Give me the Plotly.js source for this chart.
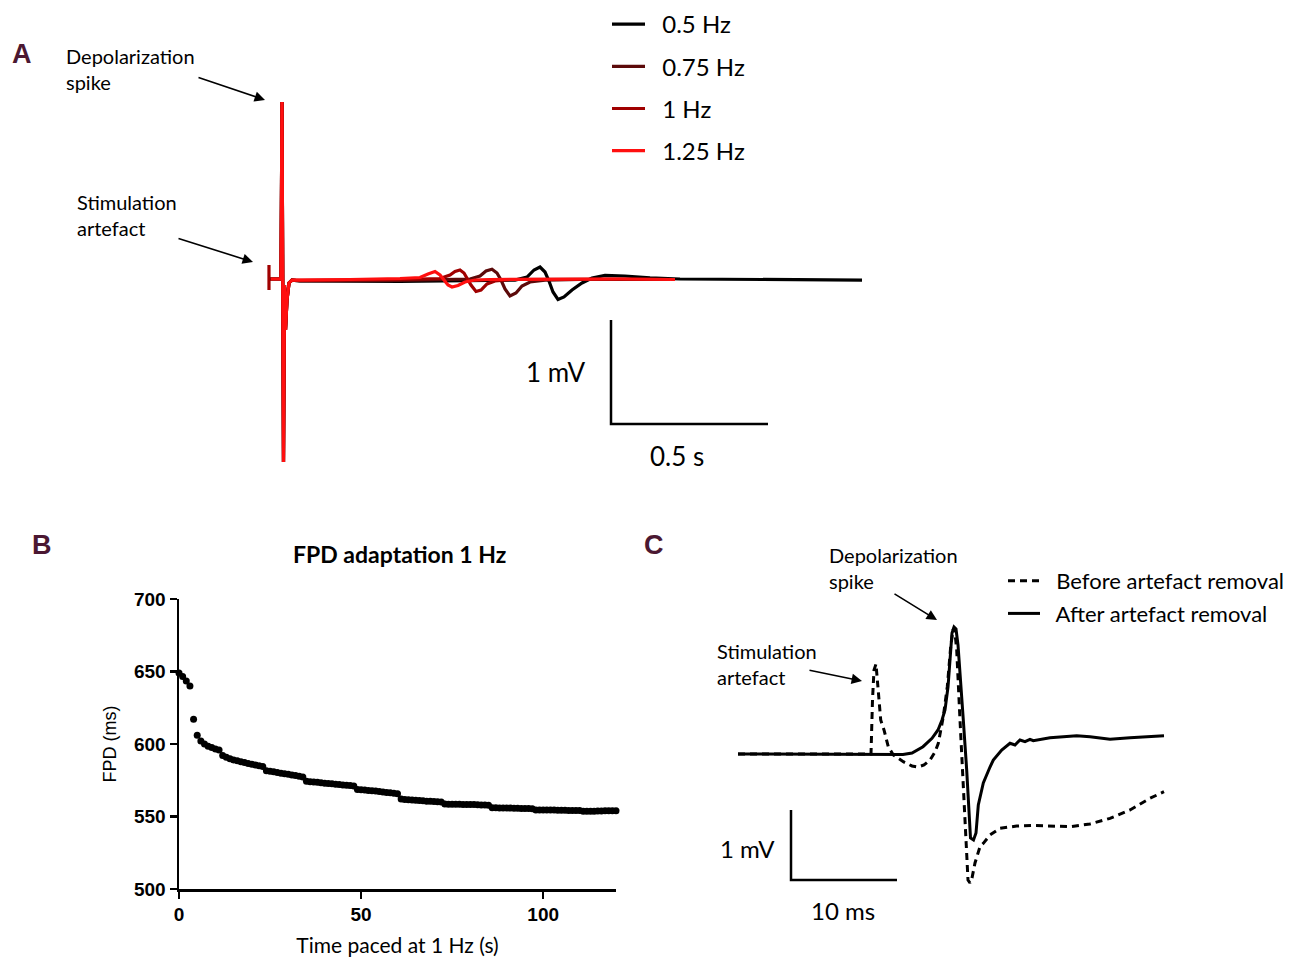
<!DOCTYPE html>
<html><head><meta charset="utf-8">
<script src="https://cdn.plot.ly/plotly-3.0.1.min.js"></script>
<style>html,body{margin:0;padding:0;background:#fff;overflow:hidden;width:1291px;height:959px}#chart{width:1291px;height:959px;overflow:hidden}</style>
</head><body><div id="chart"></div>
<script>
// ---------- Panel A: field potential traces (time in s, voltage in mV) ----------
const freqLabels = ['0.5 Hz', '0.75 Hz', '1 Hz', '1.25 Hz'];
const tA_05 = [-0.0064, 0.0350, 0.0382, 0.0430, 0.0462, 0.0494, 0.0541, 0.0605, 0.0701, 0.0955, 0.4140, 0.6688, 0.7803, 0.8185, 0.8408, 0.8599, 0.8758, 0.8885, 0.9013, 0.9172, 0.9363, 0.9618, 0.9936, 1.0255, 1.0669, 1.1306, 1.2102, 1.3057, 1.5605, 1.8854];
const vA_05 = [0, 0, 1.702, -1.760, -0.058, -0.490, -0.202, -0.038, -0.010, -0.019, -0.024, -0.019, -0.010, 0.019, 0.087, 0.115, 0.067, -0.019, -0.125, -0.197, -0.173, -0.106, -0.038, 0.010, 0.034, 0.029, 0.010, 0, -0.005, -0.010];
const tA_075 = [-0.0064, 0.0350, 0.0382, 0.0430, 0.0462, 0.0494, 0.0541, 0.0605, 0.0701, 0.0955, 0.4140, 0.6369, 0.6688, 0.6879, 0.7070, 0.7229, 0.7357, 0.7484, 0.7643, 0.7834, 0.8025, 0.8280, 0.8758, 0.9873, 1.2739];
const vA_075 = [0, 0, 1.702, -1.760, -0.058, -0.490, -0.202, -0.038, -0.010, -0.019, -0.014, 0, 0.029, 0.077, 0.093, 0.058, -0.010, -0.096, -0.163, -0.135, -0.067, -0.029, -0.010, -0.005, -0.005];
const tA_1 = [-0.0032, -0.0032, -0.0032, 0.0350, 0.0382, 0.0430, 0.0462, 0.0494, 0.0541, 0.0605, 0.0701, 0.0955, 0.2548, 0.4140, 0.5414, 0.5732, 0.5892, 0.6051, 0.6178, 0.6274, 0.6401, 0.6561, 0.6720, 0.6911, 0.7166, 0.7643, 0.9236, 1.1146, 1.2739];
const vA_1 = [0.135, -0.106, 0, 0, 1.702, -1.760, -0.058, -0.490, -0.202, -0.038, -0.010, -0.014, -0.010, -0.005, 0.005, 0.038, 0.072, 0.087, 0.058, 0.010, -0.058, -0.120, -0.106, -0.048, -0.019, -0.005, 0, 0, -0.005];
const tA_125 = [0.0032, 0.0350, 0.0382, 0.0430, 0.0462, 0.0494, 0.0541, 0.0605, 0.0701, 0.0955, 0.2548, 0.4140, 0.4777, 0.5032, 0.5255, 0.5414, 0.5541, 0.5669, 0.5796, 0.5987, 0.6210, 0.6529, 0.7006, 0.8917, 1.1146, 1.2898];
const vA_125 = [0, 0, 1.702, -1.760, -0.058, -0.490, -0.202, -0.038, -0.010, -0.010, -0.005, 0.005, 0.014, 0.048, 0.072, 0.038, -0.010, -0.058, -0.077, -0.0625, -0.029, -0.010, -0.005, 0, 0, -0.005];
// scale bar A (0.5 s, 1 mV)
const sbA_t = [1.086, 1.086, 1.586];
const sbA_v = [-0.394, -1.394, -1.394];

// ---------- Panel B: FPD adaptation at 1 Hz ----------
const tB = [0,1,2,3,4,5,6,7,8,9,10,11,12,13,14,15,16,17,18,19,20,21,22,23,24,25,26,27,28,29,30,31,32,33,34,35,36,37,38,39,40,41,42,43,44,45,46,47,48,49,50,51,52,53,54,55,56,57,58,59,60,61,62,63,64,65,66,67,68,69,70,71,72,73,74,75,76,77,78,79,80,81,82,83,84,85,86,87,88,89,90,91,92,93,94,95,96,97,98,99,100,101,102,103,104,105,106,107,108,109,110,111,112,113,114,115,116,117,118,119,120];
const fpdB = [649,646.5,643.5,640,617,606,602,600,598.5,597.5,596.5,595.8,592,590.8,589.8,589,588.4,587.8,587.2,586.6,586,585.5,585,584.5,581.6,581.2,580.8,580.3,579.9,579.5,579.1,578.7,578.2,577.8,577.3,574.3,574,573.8,573.6,573.3,573,572.8,572.5,572.2,572,571.8,571.5,571.3,571,568.7,568.5,568.3,568,567.8,567.5,567.2,566.9,566.6,566.3,566,565.7,562,561.8,561.6,561.4,561.2,561,560.8,560.6,560.5,560.3,560.1,560,558.6,558.5,558.5,558.4,558.4,558.3,558.3,558.2,558.2,558.1,558,557.9,557.7,556,556,555.9,555.9,555.8,555.8,555.7,555.7,555.6,555.5,555.5,555.4,554.5,554.5,554.5,554.4,554.4,554.4,554.3,554.3,554.3,554.2,554.2,554.2,554.1,553.6,553.6,553.7,553.7,553.8,553.8,553.9,553.9,554,554];
const xTicksB = [0, 50, 100];
const yTicksB = [500, 550, 600, 650, 700];

// ---------- Panel C: artefact removal (time in ms, voltage in mV) ----------
const seriesC = ['Before artefact removal', 'After artefact removal'];
const tC_before = [0, 5.849, 12.453, 12.547, 12.689, 12.830, 13.019, 13.160, 13.255, 13.462, 13.774, 14.179, 14.651, 15.594, 16.415, 16.981, 17.547, 18.113, 18.585, 18.896, 19.368, 19.745, 20.066, 20.283, 20.425, 20.632, 20.943, 21.255, 21.509, 21.698, 21.887, 22.075, 22.358, 22.830, 23.142, 23.774, 24.717, 26.292, 27.858, 29.434, 31.321, 33.208, 35.094, 36.981, 38.868, 40.189];
const vC_before = [0, 0, 0, 0, 0.771, 1.2, 1.286, 1.057, 0.814, 0.486, 0.343, 0.104, -0.014, -0.110, -0.171, -0.186, -0.157, -0.086, 0.029, 0.153, 0.533, 0.961, 1.533, 1.771, 1.8, 1.486, 0.486, -0.467, -1.414, -1.8, -1.843, -1.771, -1.557, -1.324, -1.276, -1.157, -1.061, -1.029, -1.019, -1.029, -1.039, -1.0, -0.919, -0.8, -0.633, -0.539];
const tC_after = [0, 5.849, 11.509, 14.811, 15.566, 16.415, 17.453, 18.302, 18.868, 19.245, 19.528, 19.811, 20.047, 20.189, 20.377, 20.566, 20.755, 20.943, 21.255, 21.575, 21.792, 21.934, 22.217, 22.453, 22.670, 23.142, 23.774, 24.085, 24.877, 25.660, 26.132, 26.604, 27.075, 27.547, 27.858, 29.434, 31.953, 33.208, 35.094, 36.981, 40.189];
const vC_after = [0, 0, 0, 0, -0.007, 0.014, 0.104, 0.224, 0.343, 0.486, 0.629, 0.957, 1.414, 1.729, 1.814, 1.786, 1.557, 1.2, 0.486, -0.229, -0.943, -1.2, -1.229, -1.129, -0.729, -0.414, -0.186, -0.086, 0.057, 0.153, 0.129, 0.2, 0.176, 0.210, 0.190, 0.233, 0.261, 0.247, 0.210, 0.233, 0.261];
// scale bar C (10 ms, 1 mV)
const sbC_t = [5.0, 5.0, 15.0];
const sbC_v = [-0.8, -1.8, -1.8];

// ---------- styles ----------
const freqColors = ['#000000', '#5c0a0a', '#a00000', '#ff0f0f'];
const W = 1291, H = 959;
const px = v => v / W;
const py = v => 1 - v / H;
const TXT = 'Lato, "Open Sans", sans-serif';
const ARIAL = '"Liberation Sans", Arial, sans-serif';
const pad = s => '\u00a0\u00a0' + s;

const tA = [tA_05, tA_075, tA_1, tA_125];
const vA = [vA_05, vA_075, vA_1, vA_125];
const traces = [];
for (let i = 0; i < 4; i++) {
  traces.push({
    x: tA[i], y: vA[i], xaxis: 'x', yaxis: 'y', type: 'scatter', mode: 'lines',
    name: pad(freqLabels[i]), legend: 'legend', legendgroup: 'g' + i,
    line: {color: freqColors[i], width: 3.2}
  });
}
traces.push({x: sbA_t, y: sbA_v, xaxis: 'x', yaxis: 'y', mode: 'lines', showlegend: false,
  line: {color: '#000', width: 2.5}});

traces.push({x: tB, y: fpdB, xaxis: 'x2', yaxis: 'y2', mode: 'markers', showlegend: false,
  cliponaxis: false, marker: {color: '#000', size: 7}});

traces.push({x: tC_before, y: vC_before, xaxis: 'x3', yaxis: 'y3', mode: 'lines',
  name: pad(seriesC[0]), legend: 'legend2', legendgroup: 'c0',
  line: {color: '#000', width: 3, dash: '7px,5px'}});
traces.push({x: tC_after, y: vC_after, xaxis: 'x3', yaxis: 'y3', mode: 'lines',
  name: pad(seriesC[1]), legend: 'legend2', legendgroup: 'c1',
  line: {color: '#000', width: 3}});
traces.push({x: sbC_t, y: sbC_v, xaxis: 'x3', yaxis: 'y3', mode: 'lines', showlegend: false,
  line: {color: '#000', width: 2.5}});

const hidden = {visible: false, fixedrange: true};
const ann = [];
function label(text, x, y, size, opts) {
  ann.push(Object.assign({text: text, xref: 'paper', yref: 'paper', x: px(x), y: py(y),
    xanchor: 'center', yanchor: 'middle',
    showarrow: false, font: {family: TXT, size: size, color: '#000'}}, opts || {}));
}
function arrow(hx, hy, tx, ty) {
  ann.push({text: '', xref: 'paper', yref: 'paper', x: px(hx), y: py(hy),
    ax: tx - hx, ay: ty - hy, showarrow: true, arrowhead: 2, arrowsize: 1.3,
    arrowwidth: 1.6, arrowcolor: '#000', standoff: 0, startstandoff: 0});
}
const letterFont = {family: ARIAL, size: 27, color: '#4b1832', weight: 'bold'};
label('A', 22, 54, 27, {font: letterFont});
label('B', 42, 545, 27, {font: letterFont});
label('C', 654, 545, 27, {font: letterFont});
label('Depolarization<br>spike', 64, 69.5, 20, {xanchor: 'left', align: 'left'});
label('Stimulation<br>artefact', 75, 214.5, 20, {xanchor: 'left', align: 'left'});
arrow(265, 100, 197, 77);
arrow(253, 262, 177, 238);
label('1 mV', 587, 372, 26, {xanchor: 'right'});
label('0.5 s', 677, 456, 26);
label('FPD adaptation 1 Hz', 399, 554, 23, {font: {family: TXT, size: 23, color: '#000', weight: 'bold'}});
label('Depolarization<br>spike', 827, 568, 20, {xanchor: 'left', align: 'left'});
label('Stimulation<br>artefact', 715, 663.5, 20, {xanchor: 'left', align: 'left'});
arrow(937, 620, 893, 593);
arrow(862, 681, 808, 670);
label('1 mV', 747, 848, 24);
label('10 ms', 843, 910, 24);

const axB = {
  showline: true, linecolor: '#000', linewidth: 2.5, ticks: 'outside', ticklen: 7,
  tickwidth: 2.5, tickcolor: '#000', showgrid: false, zeroline: false, fixedrange: true,
  tickfont: {family: ARIAL, size: 19, color: '#000', weight: 'bold'}
};

const layout = {
  width: W, height: H, margin: {l: 0, r: 0, t: 0, b: 0},
  paper_bgcolor: '#fff', plot_bgcolor: 'rgba(0,0,0,0)', showlegend: true,
  xaxis: Object.assign({domain: [px(250), px(880)], range: [-0.06369, 1.94268], anchor: 'y'}, hidden),
  yaxis: Object.assign({domain: [py(480), py(90)], range: [-1.9327, 1.8173], anchor: 'x'}, hidden),
  xaxis2: Object.assign({}, axB, {domain: [px(179), px(616)], range: [0, 120], anchor: 'y2',
    tickmode: 'array', tickvals: xTicksB,
    title: {text: 'Time paced at 1 Hz (s)', font: {family: TXT, size: 21, color: '#000'}, standoff: 14}}),
  yaxis2: Object.assign({}, axB, {domain: [py(889), py(599)], range: [500, 700], anchor: 'x2',
    tickmode: 'array', tickvals: yTicksB,
    title: {text: 'FPD (ms)', font: {family: ARIAL, size: 18, color: '#000'}, standoff: 13}}),
  xaxis3: Object.assign({domain: [px(720), px(1180)], range: [-1.698, 41.698], anchor: 'y3'}, hidden),
  yaxis3: Object.assign({domain: [py(900), py(610)], range: [-2.0857, 2.0571], anchor: 'x3'}, hidden),
  legend: {x: px(607), y: py(2), xanchor: 'left', yanchor: 'top', bgcolor: 'rgba(0,0,0,0)',
    font: {family: TXT, size: 24, color: '#000'}, tracegroupgap: 8, itemwidth: 33},
  legend2: {x: px(1003), y: py(560), xanchor: 'left', yanchor: 'top', bgcolor: 'rgba(0,0,0,0)',
    font: {family: TXT, size: 22, color: '#000'}, tracegroupgap: 1, itemwidth: 32},
  annotations: ann
};

Plotly.newPlot('chart', traces, layout, {staticPlot: true, displayModeBar: false});
</script>
</body></html>
